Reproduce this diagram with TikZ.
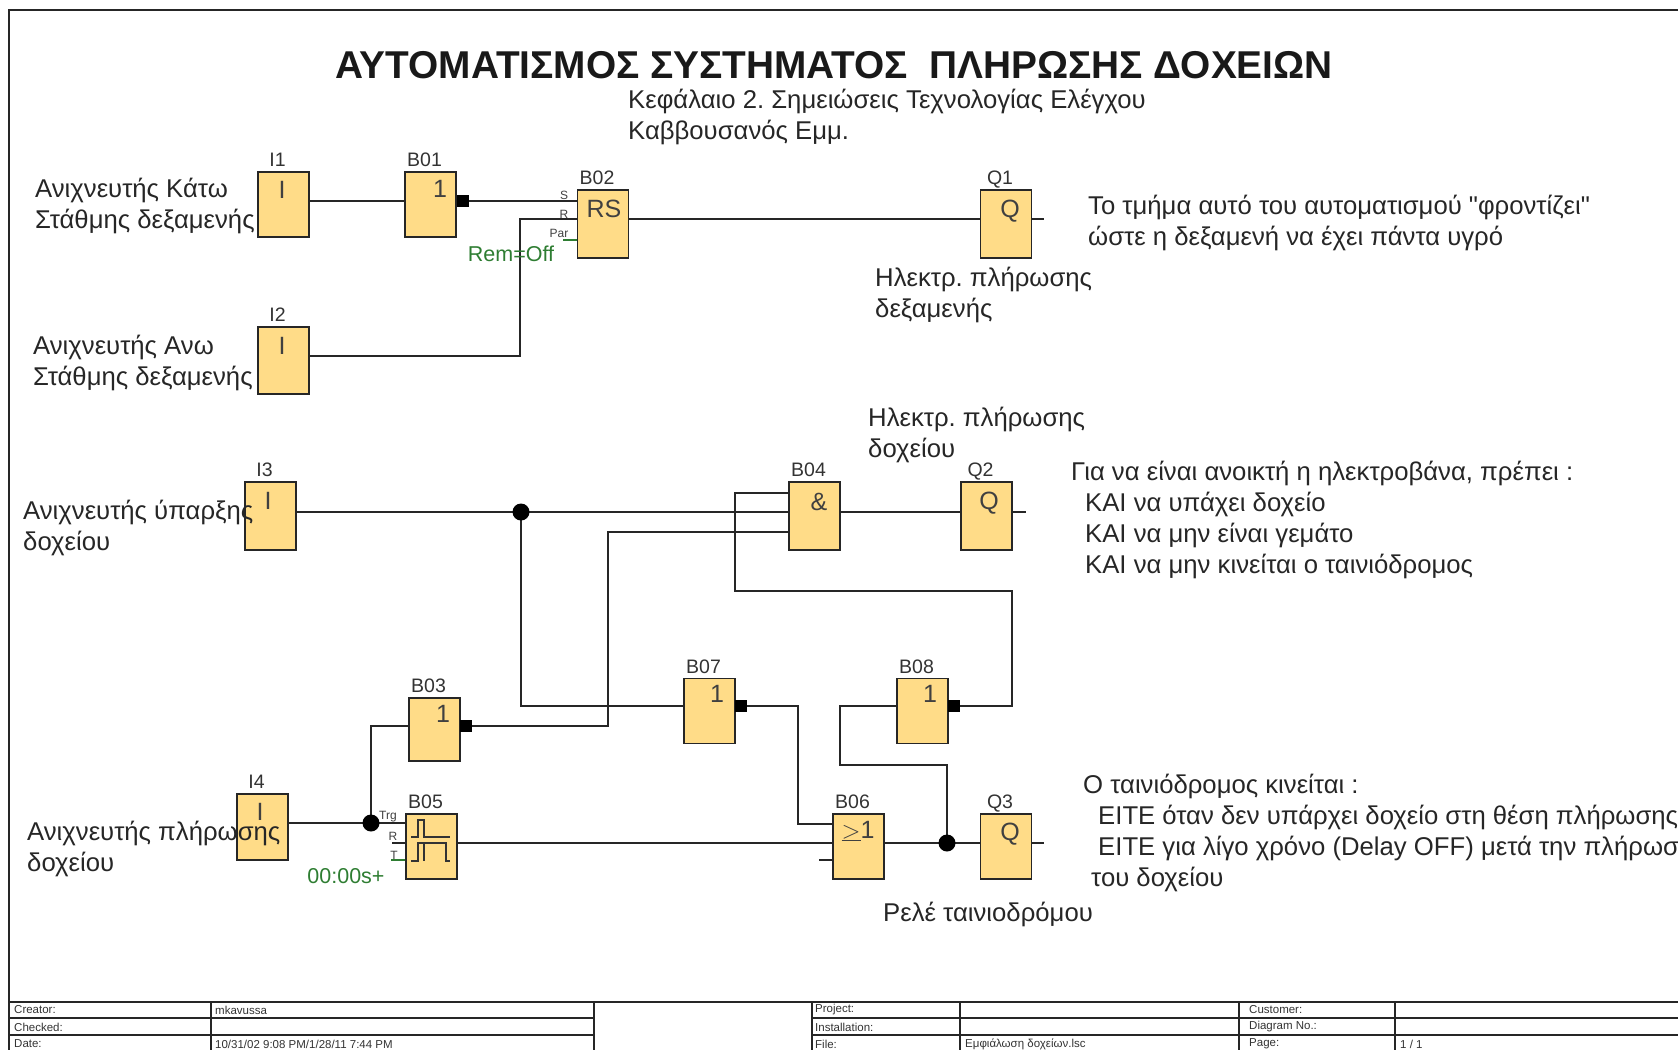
\documentclass[tikz,border=0pt]{standalone}
\usepackage{fontspec}
\setmainfont{Liberation Sans}
\newfontfamily\plainfont{Liberation Sans}
\usetikzlibrary{calc}

\begin{document}
\frenchspacing
\begin{tikzpicture}[x=1pt,y=-1pt,
    fb/.style={rectangle, draw=black!85, line width=1.2pt, fill=fbfill, minimum width=51pt, minimum height=65pt, inner sep=0pt},
    tag/.style={font=\fontsize{19.5}{21}\selectfont, text=black!80, inner sep=0pt, xshift=-6pt, yshift=4.5pt, text height=14pt, text depth=0pt},
    sym/.style={font=\fontsize{25}{27}\selectfont, text=black!75, inner sep=0pt},
    txt/.style={font=\fontsize{25.7}{31}\selectfont, text=black!85, align=left, anchor=north west, inner sep=0pt},
    pin/.style={font=\fontsize{12}{13}\selectfont, text=black!75, inner sep=0pt},
    par/.style={font=\fontsize{21.5}{23}\selectfont, text=grn, inner sep=0pt},
    tb/.style={font=\fontsize{11.5}{13}\selectfont, text=black!80, anchor=west, inner sep=0pt},
    wire/.style={line width=1.2pt, draw=black!85},
    dot/.style={circle, fill=black, inner sep=0pt, minimum size=17pt},
    neg/.style={rectangle, fill=black, inner sep=0pt, minimum width=12pt, minimum height=12pt}
]
\definecolor{fbfill}{HTML}{FFDC88}
\definecolor{grn}{HTML}{2E7D32}
\useasboundingbox (0,0) rectangle (1678,1050);
\clip (0,0) rectangle (1678,1050);

% frame and title block
\draw[line width=1.4pt, black!85] (1678,10) -- (9,10) -- (9,1050);
\draw[line width=1.4pt, black!85] (9,1002) -- (1678,1002);
\draw[line width=1.2pt, black!85] (9,1018) -- (594,1018) (812,1018) -- (1678,1018);
\draw[line width=1.2pt, black!85] (9,1035) -- (594,1035) (812,1035) -- (1678,1035);
\foreach \xa in {211,594,812,960,1239,1395}
    \draw[line width=1.2pt, black!85] (\xa,1002) -- (\xa,1050);

\node[tb] (creator) at (14,1010) {Creator:};
\node[tb] (creatorv) at (215,1010) {mkavussa};
\node[tb] (checked) at (14,1027) {Checked:};
\node[tb] (date) at (14,1044) {Date:};
\node[tb] (datev) at (215,1044) {10/31/02 9:08 PM/1/28/11 7:44 PM};
\node[tb] (project) at (815,1010) {Project:};
\node[tb] (install) at (815,1027) {Installation:};
\node[tb] (file) at (815,1044) {File:};
\node[tb] (filev) at (965,1044) {Εμφιάλωση δοχείων.lsc};
\node[tb] (customer) at (1249,1010) {Customer:};
\node[tb] (diagram) at (1249,1027) {Diagram No.:};
\node[tb] (pg) at (1249,1044) {Page:};
\node[tb] (pgv) at (1400,1044) {1 / 1};

% pin coordinates
\coordinate (j3) at (521,512);
\coordinate (j4) at (371,823);
\coordinate (jq3) at (947,843);
\coordinate (B02r) at (578,219);
\coordinate (B04a) at (789,493);
\coordinate (B04b) at (789,512);
\coordinate (B04c) at (789,532);
\coordinate (B06a) at (833,824);
\coordinate (B06b) at (833,843);
\coordinate (B06c) at (833,860);
\coordinate (B05a) at (406,823);
\coordinate (B05b) at (406,843);
\coordinate (I2out) at (309,356);

\node[fb] (I1) at (283.5,204.5) [label={[tag]above:I1}] {};
\node[fb] (B01) at (430.5,204.5) [label={[tag]above:B01}] {};
\node[fb, minimum height=68pt] (B02) at (603,224) [label={[tag]above:B02}] {};
\node[fb, minimum height=68pt] (Q1) at (1006,224) [label={[tag]above:Q1}] {};
\node[fb, minimum height=67pt] (I2) at (283.5,360.5) [label={[tag]above:I2}] {};
\node[fb, minimum height=68pt] (I3) at (270.5,516) [label={[tag]above:I3}] {};
\node[fb, minimum height=68pt] (B04) at (814.5,516) [label={[tag]above:B04}] {};
\node[fb, minimum height=68pt] (Q2) at (986.5,516) [label={[tag]above:Q2}] {};
\node[fb, minimum height=63pt] (B03) at (434.5,729.5) [label={[tag]above:B03}] {};
\node[fb] (B07) at (709.5,711) [label={[tag]above:B07}] {};
\node[fb] (B08) at (922.5,711) [label={[tag]above:B08}] {};
\node[fb, minimum height=66pt] (I4) at (262.5,827) [label={[tag]above:I4}] {};
\node[fb] (B05) at (431.5,846.5) [label={[tag]above:B05}] {};
\node[fb] (B06) at (858.5,846.5) [label={[tag]above:B06}] {};
\node[fb] (Q3) at (1006,846.5) [label={[tag]above:Q3}] {};

\node[sym] (s_i1) at (282,190) {I};
\node[sym] (s_b01) at (440,189) {1};
\node[sym] (s_b02) at (604,209) {RS};
\node[sym] (s_q1) at (1010,211) {Q};
\node[sym] (s_i2) at (282,346) {I};
\node[sym] (s_i3) at (268,501) {I};
\node[sym] (s_b04) at (819,502) {\&};
\node[sym] (s_q2) at (989,503) {Q};
\node[sym] (s_b03) at (443,714) {1};
\node[sym] (s_b07) at (717,694) {1};
\node[sym] (s_b08) at (930,694) {1};
\node[sym] (s_i4) at (260,812) {I};
\node[sym] (s_b06) at (858,831) {$\underline{>}$1};
\node[sym] (s_q3) at (1010,834) {Q};

% negation marks
\node[neg] (n1) at (463,201) {};
\node[neg] (n3) at (466,726) {};
\node[neg] (n7) at (741,706) {};
\node[neg] (n8) at (954,706) {};

% connections
\draw[wire] (I1.east |- n1) -- (B01.west |- n1);
\draw[wire] (n1) -- (n1 -| B02.west);
\draw[wire] (I2out) -- (520,356) -- (520,219) -- (B02r);
\draw[wire] (B02r -| B02.east) -- (B02r -| Q1.west);
\draw[wire] (Q1.east |- B02r) -- ++(12,0);
\draw[wire] (I3.east |- j3) -- (B04b);
\draw[wire] (B04.east |- j3) -- (Q2.west |- j3);
\draw[wire] (Q2.east |- j3) -- ++(13,0);
\draw[wire] (j3) |- (B07.west |- n7);
\draw[wire] (j4) |- (B03.west |- n3);
\draw[wire] (n3) -- (608,726) |- (B04c);
\draw[wire] (n8) -- (1012,706) -- (1012,591) -- (735,591) -- (735,493) -- (B04a);
\draw[wire] (n7) -- (798,706) |- (B06a);
\draw[wire] (B08.west |- n8) -- (840,706) -- (840,765) -- (947,765) -- (jq3);
\draw[wire] (I4.east |- j4) -- (B05a);
\draw[wire] (B05.east |- B05b) -- (B06b);
\draw[wire] (B06.east |- jq3) -- (Q3.west |- jq3);
\draw[wire] (Q3.east |- jq3) -- ++(12,0);
\draw[wire] (B06c) -- ++(-14,0);
\draw[wire] (B05b) -- ++(-14,0);
\draw[wire, grn] (B02.west |- 0,240) -- ++(-14,0);
\draw[wire, grn] (B05.west |- 0,860) -- ++(-14,0);

\node[dot] (dj3) at (j3) {};
\node[dot] (dj4) at (j4) {};
\node[dot] (djq3) at (jq3) {};

% pin names and parameters
\node[pin] (p_s) at (564,195) {S};
\node[pin] (p_r) at (564,214) {R};
\node[pin] (p_par) at (559,233) {Par};
\node[pin] (p_trg) at (388,817) {Trg};
\node[pin] (p_r5) at (393,836) {R};
\node[pin] (p_t) at (394,855) {T};
\node[par] (rem) at (511,254) {Rem=Off};
\node[par] (tm) at (346,876) {00:00s+};

% timer symbol in B05
\draw[line width=1.2pt, black!80] (411,837) -- (418,837) -- (418,820) -- (424,820) -- (424,837) -- (450,837);
\draw[line width=1.2pt, black!80] (411,861) -- (418,861) -- (418,843) -- (446,843) -- (446,861) -- (450,861);
\draw[line width=1.2pt, black!80] (424,843) -- (424,861);

% texts
\node[font=\bfseries\fontsize{38.8}{40}\selectfont, text=black!90, inner sep=0pt] (title) at (834,65)
    {ΑΥΤΟΜΑΤΙΣΜΟΣ ΣΥΣΤΗΜΑΤΟΣ\ \ ΠΛΗΡΩΣΗΣ ΔΟΧΕΙΩΝ};
\node[txt] (sub) at (628,89) {Κεφάλαιο 2. Σημειώσεις Τεχνολογίας Ελέγχου\\Καββουσανός Εμμ.};
\node[txt] (t_i1) at (35,178) {Ανιχνευτής Κάτω\\Στάθμης δεξαμενής};
\node[txt] (t_i2) at (33,335) {Ανιχνευτής Ανω\\Στάθμης δεξαμενής};
\node[txt] (t_i3) at (23,500) {Ανιχνευτής ύπαρξης\\δοχείου};
\node[txt] (t_i4) at (27,821) {Ανιχνευτής πλήρωσης\\δοχείου};
\node[txt] (t_q1) at (875,267) {Ηλεκτρ. πλήρωσης\\δεξαμενής};
\node[txt] (t_q2) at (868,407) {Ηλεκτρ. πλήρωσης\\δοχείου};
\node[txt] (t_q3) at (883,902) {Ρελέ ταινιοδρόμου};
\node[txt] (n_q1) at (1088,195) {Το τμήμα αυτό του αυτοματισμού {\plainfont"φροντίζει"}\\ώστε η δεξαμενή να έχει πάντα υγρό};
\node[txt] (n_q2) at (1071,461) {Για να είναι ανοικτή η ηλεκτροβάνα, πρέπει :\\\hspace*{14pt}ΚΑΙ να υπάχει δοχείο\\\hspace*{14pt}ΚΑΙ να μην είναι γεμάτο\\\hspace*{14pt}ΚΑΙ να μην κινείται ο ταινιόδρομος};
\node[txt] (n_q3) at (1083,774) {Ο ταινιόδρομος κινείται :\\\hspace*{15pt}ΕΙΤΕ όταν δεν υπάρχει δοχείο στη θέση πλήρωσης\\\hspace*{15pt}ΕΙΤΕ για λίγο χρόνο (Delay OFF) μετά την πλήρωση\\\hspace*{8pt}του δοχείου};
\end{tikzpicture}
\end{document}
